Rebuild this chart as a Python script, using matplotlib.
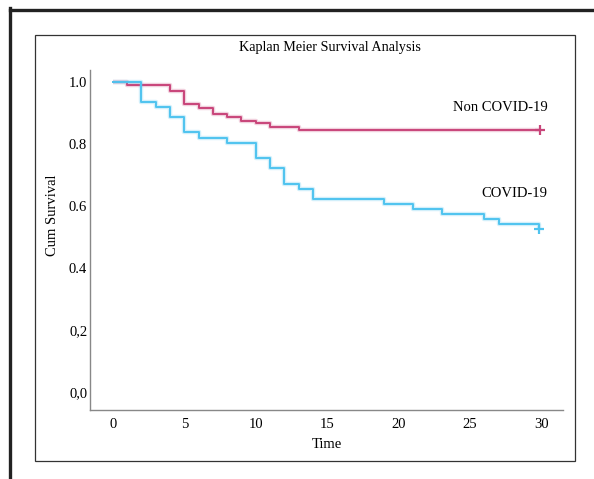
import matplotlib.pyplot as plt
from matplotlib.lines import Line2D
from matplotlib.patches import Rectangle

plt.rcParams['font.family'] = ['Liberation Serif', 'DejaVu Serif']

# Kaplan-Meier step data
noncovid_t = [0, 1, 4, 5, 6, 7, 8, 9, 10, 11, 13, 29.9]
noncovid_s = [1.0, 0.99, 0.971, 0.93, 0.918, 0.898, 0.887, 0.876, 0.867, 0.856, 0.845, 0.845]
covid_t = [0, 2, 3, 4, 5, 6, 8, 10, 11, 12, 13, 14, 19, 21, 23, 26, 27, 29.85]
covid_s = [1.0, 0.936, 0.919, 0.886, 0.838, 0.82, 0.804, 0.755, 0.722, 0.672, 0.656,
           0.624, 0.606, 0.590, 0.574, 0.558, 0.541, 0.525]

xticks = [0, 5, 10, 15, 20, 25, 30]
yticks = [0.0, 0.2, 0.4, 0.6, 0.8, 1.0]
ytick_labels = ['0,0', '0,2', '0.4', '0.6', '0.8', '1.0']

pink = '#c8457a'
blue = '#4fc3ef'

W, H = 594, 479
fig = plt.figure(figsize=(W / 100, H / 100), dpi=100)

# outer frame (thick, top + left) and inner box
fig.add_artist(Line2D([10 / W, 10 / W], [0, 1 - 8 / H], color='#222222', lw=2.4))
fig.add_artist(Line2D([10 / W, 1], [1 - 9.5 / H, 1 - 9.5 / H], color='#222222', lw=2.4))
fig.add_artist(Rectangle((35 / W, 1 - 461 / H), 540 / W, 426 / H, fill=False,
                         edgecolor='#333333', lw=0.9))

ax = fig.add_axes([90 / W, 1 - 410 / H, 473 / W, 340 / H])

for t, s, c in [(noncovid_t, noncovid_s, pink), (covid_t, covid_s, blue)]:
    ax.step(t, s, where='post', color=c, lw=3.2, alpha=0.25, solid_capstyle='butt')
    ax.step(t, s, where='post', color=c, lw=1.4)
    ax.plot(t[-1], s[-1], marker='+', color=c, ms=7, mew=1.6)

ax.set_xlim(-1.6, 31.5)
ax.set_ylim(-0.058, 1.039)
ax.set_xticks(xticks)
ax.set_yticks(yticks)
ax.set_yticklabels(ytick_labels)
ax.tick_params(length=0, labelsize=10.5)
ax.tick_params(axis='y', pad=2)
ax.tick_params(axis='x', pad=6)
for side in ['top', 'right']:
    ax.spines[side].set_visible(False)
for side in ['left', 'bottom']:
    ax.spines[side].set_color('#888888')
    ax.spines[side].set_linewidth(1.0)

ax.set_xlabel('Time', fontsize=10.5, labelpad=5)
ax.set_ylabel('Cum Survival', fontsize=10.5)
ax.yaxis.set_label_coords(-0.066, 0.574)
fig.text(330 / W, 1 - 48 / H, 'Kaplan Meier Survival Analysis', fontsize=10.2,
         ha='center', va='center')

ax.text(30.4, 0.918, 'Non COVID-19', fontsize=10.5, ha='right', va='center')
ax.text(30.4, 0.641, 'COVID-19', fontsize=10.5, ha='right', va='center')

fig.savefig('out.png', dpi=100)
